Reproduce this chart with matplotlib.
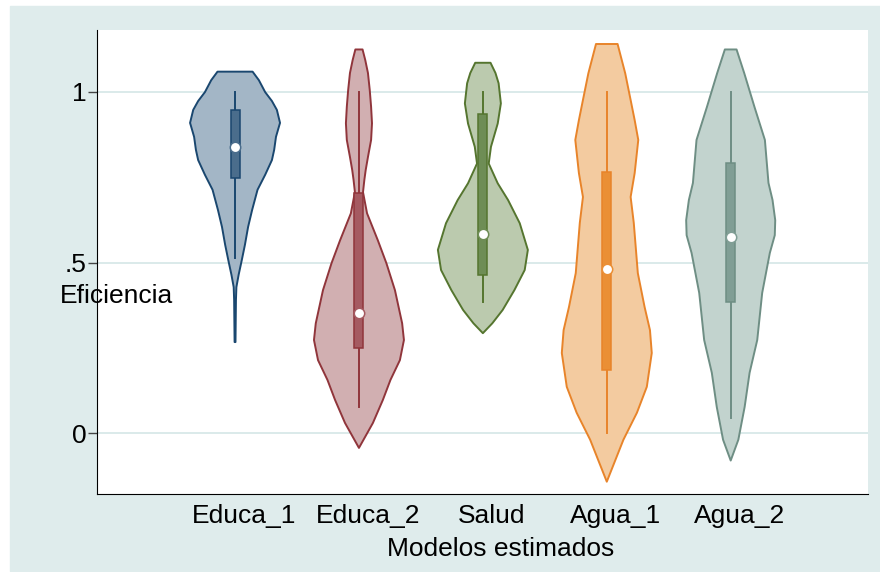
import numpy as np
import matplotlib.pyplot as plt
from matplotlib.patches import Rectangle

plt.rcParams['font.family'] = ['Liberation Sans', 'DejaVu Sans']

modelos = ['Educa_1', 'Educa_2', 'Salud', 'Agua_1', 'Agua_2']

# contornos de los violines: nivel de eficiencia y ancho relativo (densidad / max)
educa1_y = [1.059, 1.034, 0.999, 0.973, 0.947, 0.909, 0.868, 0.830, 0.800, 0.757,
            0.713, 0.654, 0.604, 0.552, 0.507, 0.464, 0.428, 0.390, 0.267]
educa1_w = [0.39, 0.53, 0.67, 0.82, 0.93, 1.0, 0.91, 0.87, 0.82, 0.67,
            0.50, 0.38, 0.29, 0.22, 0.15, 0.08, 0.03, 0.02, 0.01]

educa2_y = [1.124, 1.093, 1.055, 1.005, 0.956, 0.908, 0.859, 0.809, 0.771, 0.742,
            0.706, 0.644, 0.565, 0.498, 0.419, 0.322, 0.273, 0.214, 0.156, 0.097,
            0.030, -0.043]
educa2_w = [0.08, 0.14, 0.20, 0.24, 0.27, 0.29, 0.27, 0.20, 0.15, 0.12,
            0.09, 0.18, 0.42, 0.61, 0.80, 0.96, 1.0, 0.91, 0.70, 0.53,
            0.31, 0.0]

salud_y = [1.085, 1.055, 1.025, 0.966, 0.907, 0.839, 0.790, 0.732, 0.683, 0.615,
           0.537, 0.478, 0.419, 0.361, 0.322, 0.293]
salud_w = [0.17, 0.28, 0.35, 0.40, 0.33, 0.18, 0.13, 0.33, 0.56, 0.82,
           1.0, 0.93, 0.70, 0.44, 0.21, 0.0]

agua1_y = [1.140, 1.054, 0.976, 0.917, 0.859, 0.762, 0.692, 0.616, 0.469, 0.370,
           0.302, 0.235, 0.136, 0.060, -0.019, -0.142]
agua1_w = [0.24, 0.41, 0.53, 0.62, 0.70, 0.62, 0.53, 0.60, 0.69, 0.84,
           0.96, 1.0, 0.89, 0.67, 0.37, 0.0]

agua2_y = [1.124, 1.055, 0.955, 0.859, 0.733, 0.683, 0.624, 0.580, 0.528, 0.411,
           0.273, 0.177, 0.077, -0.019, -0.080]
agua2_w = [0.13, 0.30, 0.53, 0.76, 0.84, 0.93, 0.99, 0.98, 0.87, 0.70,
           0.59, 0.42, 0.31, 0.17, 0.0]

# bigotes, cuartiles y mediana
bigote_inf = [0.513, 0.078, 0.383, 0.0, 0.045]
q1 = [0.747, 0.250, 0.463, 0.185, 0.385]
mediana = [0.838, 0.353, 0.584, 0.482, 0.574]
q3 = [0.946, 0.704, 0.935, 0.766, 0.790]
bigote_sup = [1.0, 1.0, 1.0, 1.0, 1.0]

perfiles = [(educa1_y, educa1_w), (educa2_y, educa2_w), (salud_y, salud_w),
            (agua1_y, agua1_w), (agua2_y, agua2_w)]

lineas = ['#1a476f', '#90353b', '#55752f', '#e8842a', '#6e8e84']
rellenos = ['#a3b6c6', '#d1afb1', '#bbcaae', '#f3cba0', '#c2d3ce']
cajas = ['#4a6d8c', '#a55a61', '#6e8d55', '#ea8f35', '#809e95']

W, H = 880, 572
fig = plt.figure(figsize=(W / 100, H / 100), dpi=100, facecolor='white')
fig.patches.append(Rectangle((10 / W, 1 / H), 870 / W, 565 / H,
                             transform=fig.transFigure, color='#dfecec', zorder=-10))

ax = fig.add_axes([97 / W, (H - 494) / H, 771 / W, 464 / H])
ax.set_facecolor('white')

pos = np.arange(1, 6)
semiancho = 0.363
for i, (ys, ws) in enumerate(perfiles):
    ys = np.array(ys)
    ws = np.array(ws) * semiancho
    xs = np.concatenate([pos[i] + ws, (pos[i] - ws)[::-1]])
    yy = np.concatenate([ys, ys[::-1]])
    ax.fill(xs, yy, facecolor=rellenos[i], edgecolor=lineas[i], lw=1.4,
            joinstyle='round', zorder=3)
    ax.plot([pos[i], pos[i]], [bigote_inf[i], bigote_sup[i]], color=lineas[i],
            lw=1.4, zorder=4)
    ax.add_patch(Rectangle((pos[i] - 0.036, q1[i]), 0.072, q3[i] - q1[i],
                           facecolor=cajas[i], edgecolor=lineas[i], lw=1.1, zorder=5))
    ax.plot(pos[i], mediana[i], 'o', ms=7.5, mfc='white', mec=cajas[i], mew=1.1, zorder=6)

ax.set_xlim(-0.114, 6.108)
ax.set_ylim(-0.178, 1.181)
ax.set_yticks([0, 0.5, 1])
ax.set_yticklabels(['0', '.5', '1'])
ax.grid(axis='y', color='#d8e8e8', lw=1.3, zorder=1)
ax.set_axisbelow(True)
# las etiquetas del eje x quedan un poco a la derecha de cada violín
ax.set_xticks(pos + 0.073)
ax.set_xticklabels(modelos)
ax.tick_params(axis='x', length=0, pad=7, labelsize=19)
ax.tick_params(axis='y', length=6.5, width=1, color='#444444', pad=1, labelsize=19)
for s in ['top', 'right']:
    ax.spines[s].set_visible(False)
ax.spines['left'].set_color('black')
ax.spines['bottom'].set_color('black')

fig.text(60 / W, 1 - 296 / H, 'Eficiencia', fontsize=19, ha='left', va='center', zorder=10)
fig.text(501 / W, 1 - 549 / H, 'Modelos estimados', fontsize=19, ha='center', va='center')

fig.savefig('out.png', dpi=100, facecolor=fig.get_facecolor())
